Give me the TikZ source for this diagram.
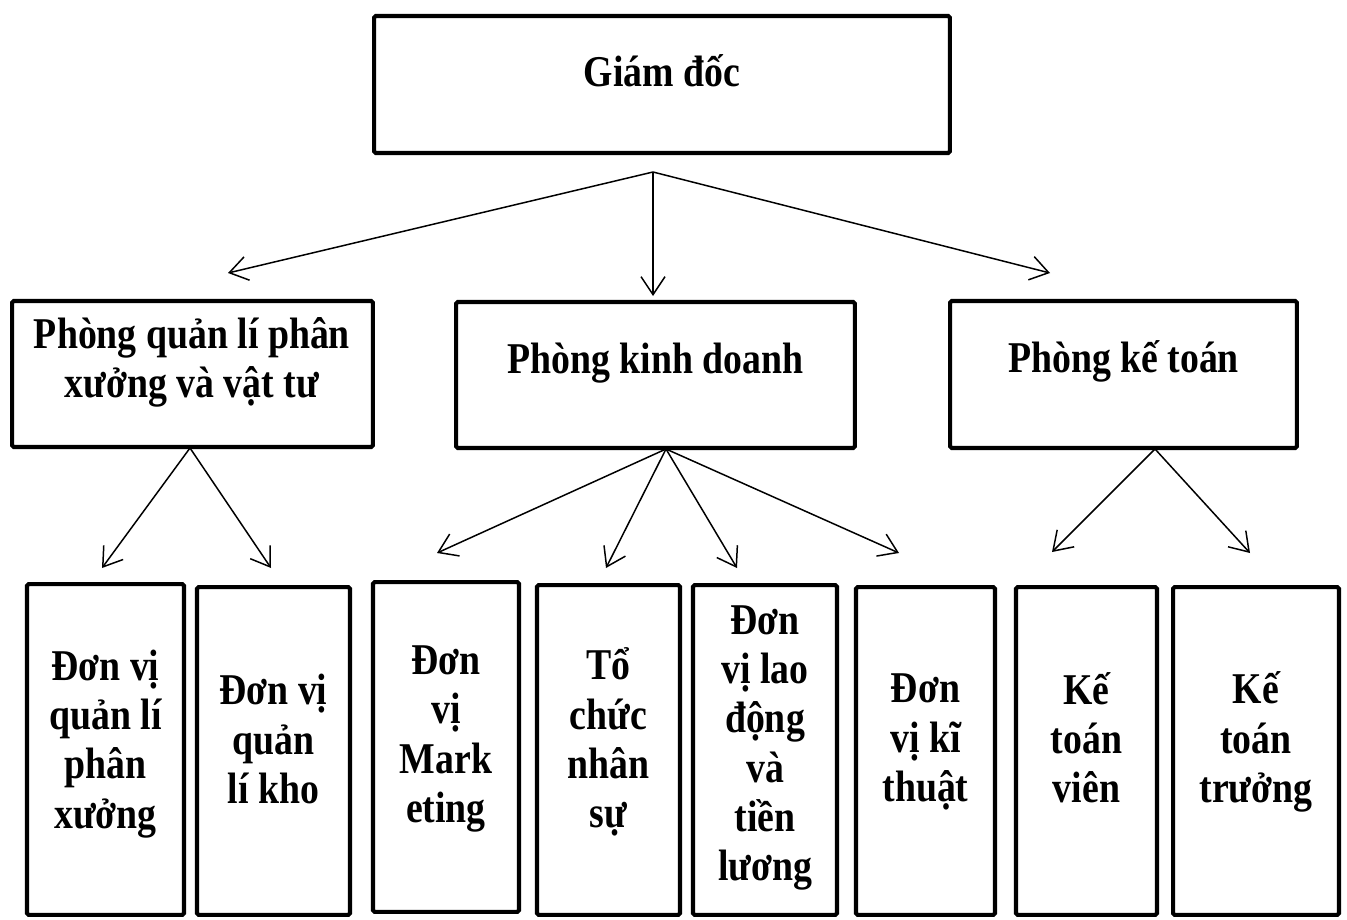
\documentclass[tikz,border=0pt]{standalone}
\usepackage{fontspec}
\setmainfont{Liberation Serif}[FakeStretch=0.86]
\usetikzlibrary{arrows.meta}

\begin{document}
\begin{tikzpicture}[x=0.02cm,y=-0.02cm,
    box/.style={draw, line width=2.3pt, rounded corners=1pt, inner sep=0pt},
    boxtext/.style={align=center, inner sep=0pt, font=\fontsize{25}{28}\selectfont\bfseries},
    link/.style={-{Straight Barb[length=3.6mm,width=4.8mm]}, line width=0.85pt}]
  \useasboundingbox (0,0) rectangle (1347,920);

  % top level
  \node[box, minimum width=11.52cm, minimum height=2.74cm] (gd) at (662,84.5) {};
  \node[boxtext] (gdtxt) at (662,71) {Giám đốc};

  % departments
  \node[box, minimum width=7.22cm, minimum height=2.92cm] (pql) at (192.5,374) {};
  \node[box, minimum width=7.98cm, minimum height=2.92cm] (pkd) at (655.5,375) {};
  \node[box, minimum width=6.94cm, minimum height=2.94cm] (pkt) at (1123.5,374.5) {};
  \node[boxtext] (pqltxt) at (192,362) {Phòng quản lí phân\\xưởng và vật tư};
  \node[boxtext] (pkdtxt) at (655.5,363) {Phòng kinh doanh};
  \node[boxtext] (pkttxt) at (1123.5,361) {Phòng kế toán};

  % units
  \node[box, minimum width=3.14cm, minimum height=6.62cm] (dvpx) at (105.5,749.5) {};
  \node[box, minimum width=3.06cm, minimum height=6.56cm] (dvkho) at (273.5,751) {};
  \node[box, minimum width=2.92cm, minimum height=6.6cm] (dvmkt) at (446,747) {};
  \node[box, minimum width=2.86cm, minimum height=6.6cm] (tcns) at (608.5,750) {};
  \node[box, minimum width=2.88cm, minimum height=6.6cm] (dvld) at (765,750) {};
  \node[box, minimum width=2.78cm, minimum height=6.56cm] (dvkt) at (925.5,751) {};
  \node[box, minimum width=2.82cm, minimum height=6.56cm] (ktv) at (1086.5,751) {};
  \node[box, minimum width=3.32cm, minimum height=6.56cm] (ktt) at (1256,751) {};

  \node[boxtext] (dvpxtxt) at (105.5,744) {Đơn vị\\quản lí\\phân\\xưởng};
  \node[boxtext] (dvkhotxt) at (273.5,739) {Đơn vị\\quản\\lí kho};
  \node[boxtext] (dvmkttxt) at (446,739) {Đơn\\vị\\Mark\\eting};
  \node[boxtext] (tcnstxt) at (608.5,742) {Tổ\\chức\\nhân\\sự};
  \node[boxtext] (dvldtxt) at (765,748) {Đơn\\vị lao\\động\\và\\tiền\\lương};
  \node[boxtext] (dvkttxt) at (925.5,742) {Đơn\\vị kĩ\\thuật};
  \node[boxtext] (ktvtxt) at (1086.5,738) {Kế\\toán\\viên};
  \node[boxtext] (ktttxt) at (1256,742) {Kế\\toán\\trưởng};

  % fork points and arrow ends
  \coordinate (gdfork) at (653,172);
  \coordinate (pqlfork) at (190,448);
  \coordinate (pkdfork) at (666,449);
  \coordinate (pktfork) at (1155,449);

  \coordinate (topl) at (228,273);
  \coordinate (topm) at (653,296);
  \coordinate (topr) at (1050,273);
  \coordinate (pxend) at (102,568);
  \coordinate (khoend) at (271,568);
  \coordinate (mktend) at (437,553);
  \coordinate (nsend) at (606,568);
  \coordinate (ldend) at (737,568);
  \coordinate (ktend) at (899,553);
  \coordinate (ktvend) at (1052,552);
  \coordinate (kttend) at (1250,553);

  \draw[link] (gdfork) -- (topl);
  \draw[link] (gdfork) -- (topm);
  \draw[link] (gdfork) -- (topr);

  \draw[link] (pqlfork) -- (pxend);
  \draw[link] (pqlfork) -- (khoend);

  \draw[link] (pkdfork) -- (mktend);
  \draw[link] (pkdfork) -- (nsend);
  \draw[link] (pkdfork) -- (ldend);
  \draw[link] (pkdfork) -- (ktend);

  \draw[link] (pktfork) -- (ktvend);
  \draw[link] (pktfork) -- (kttend);
\end{tikzpicture}
\end{document}
